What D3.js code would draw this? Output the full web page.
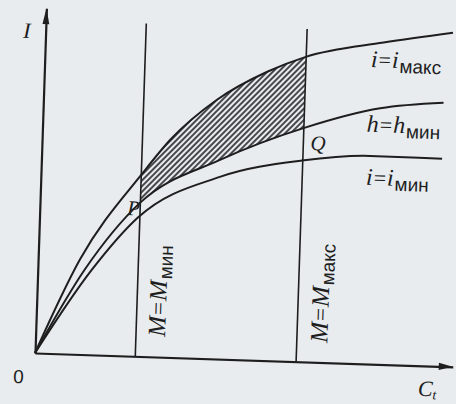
<!DOCTYPE html>
<html><head><meta charset="utf-8">
<script src="https://cdn.jsdelivr.net/npm/d3@7"></script>
<style>
html,body{margin:0;padding:0;background:#e8ecef;}
svg{display:block;}
</style></head><body>
<svg id="chart" width="456" height="404"></svg>
<script>
// Curve data (arbitrary units: concentration C_t on x, current I on y)
const iMaxX = [0, 1.0, 2.44, 3.06, 4.15, 5.33, 6.24, 8.09, 9.74];
const iMaxY = [0, 2.75, 5.33, 6.30, 7.51, 8.37, 8.84, 9.33, 9.68];
const hMinX = [0, 1.12, 2.39, 4.27, 6.26, 8.06, 9.57];
const hMinY = [0, 2.46, 4.45, 5.77, 6.78, 7.42, 7.64];
const iMinX = [0, 1.29, 2.36, 4.28, 6.23, 7.86, 9.58];
const iMinY = [0, 2.46, 4.03, 5.28, 5.83, 6.03, 6.02];
// Bounds of M (vertical lines) and their height
const mBounds = [2.40, 6.25];
const mBoundTop = 9.65;
const mLabels = [["M", "=", "M", "мин"], ["M", "=", "M", "макс"]];
const curveLabels = [["i", "=", "i", "макс"], ["h", "=", "h", "мин"], ["i", "=", "i", "мин"]];

const W = 456, H = 404;
const ink = "#1e1e1e";
const serif = "'Liberation Serif','DejaVu Serif',serif";
const sans = "'Liberation Sans','DejaVu Sans',sans-serif";

const svg = d3.select("#chart");
svg.append("rect").attr("width", W).attr("height", H).attr("fill", "#e8ecef");

const defs = svg.append("defs");
const pat = defs.append("pattern").attr("id", "hatch")
  .attr("patternUnits", "userSpaceOnUse").attr("width", 10).attr("height", 4)
  .attr("patternTransform", "rotate(-47)");
pat.append("line").attr("x1", 0).attr("x2", 10).attr("y1", 2).attr("y2", 2)
  .attr("stroke", ink).attr("stroke-width", 1.6);

// Plot group, slightly turned like the printed figure
const g = svg.append("g").attr("transform", "translate(35,353) rotate(1.9)");
const x = d3.scaleLinear().domain([0, 10]).range([0, 418]);
const y = d3.scaleLinear().domain([0, 10]).range([0, -345]);

const toPts = (xs, ys) => xs.map((v, i) => [v, ys[i]]);
const series = [toPts(iMaxX, iMaxY), toPts(hMinX, hMinY), toPts(iMinX, iMinY)];
const line = d3.line().x(d => x(d[0])).y(d => y(d[1])).curve(d3.curveMonotoneX);

// Hatched zone: above h=h_min, below i=i_max, between the M bounds
defs.append("clipPath").attr("id", "underTop").append("path")
  .attr("d", d3.area().x(d => x(d[0])).y0(y(0)).y1(d => y(d[1])).curve(d3.curveMonotoneX)(series[0]));
defs.append("clipPath").attr("id", "mBand").append("rect")
  .attr("x", x(mBounds[0])).attr("width", x(mBounds[1]) - x(mBounds[0]))
  .attr("y", y(10)).attr("height", y(0) - y(10));
g.append("g").attr("clip-path", "url(#mBand)")
  .append("g").attr("clip-path", "url(#underTop)")
  .append("path")
  .attr("d", d3.area().x(d => x(d[0])).y0(d => y(d[1])).y1(y(10)).curve(d3.curveMonotoneX)(series[1]))
  .attr("fill", "url(#hatch)");

// Axes without ticks
const xAxis = g.append("g").call(d3.axisBottom(x).tickValues([]).tickSizeOuter(0));
const yAxis = g.append("g").call(d3.axisLeft(y).tickValues([]).tickSizeOuter(0));
[xAxis, yAxis].forEach(a => a.select(".domain").attr("stroke", ink).attr("stroke-width", 2.2));
g.append("path").attr("d", `M${x(10)},0 L${x(10) - 14},-3.6 L${x(10) - 14},3.6 Z`).attr("fill", ink);
g.append("path").attr("d", `M0,${y(10)} L-3.4,${y(10) + 16} L3.4,${y(10) + 16} Z`).attr("fill", ink);

// M bounds
g.selectAll(".mline").data(mBounds).join("line")
  .attr("x1", d => x(d)).attr("x2", d => x(d))
  .attr("y1", y(0)).attr("y2", y(mBoundTop))
  .attr("stroke", ink).attr("stroke-width", 1.6);

// Curves
g.selectAll(".curve").data(series).join("path")
  .attr("d", line).attr("fill", "none")
  .attr("stroke", ink).attr("stroke-width", 2);

// Text helper: runs of italic serif, upright serif and sans subscripts
function label(parent, px, py, parts, rot) {
  const t = parent.append("text").attr("x", px).attr("y", py).attr("fill", ink);
  if (rot) t.attr("transform", `rotate(${rot},${px},${py})`);
  parts.forEach(p => {
    t.append("tspan").text(p.t)
      .attr("font-family", p.sans ? sans : serif)
      .attr("font-style", p.it ? "italic" : "normal")
      .attr("font-size", p.fs)
      .attr("dy", p.dy || 0)
      .attr("dx", p.dx || 0);
  });
  return t;
}

label(g, -22.5, -314.6, [{t: "I", it: true, fs: 22}]);
label(g, -21, 30.7, [{t: "0", sans: true, fs: 19}]);
label(g, 384, 30, [{t: "C", it: true, fs: 22}, {t: "t", it: true, fs: 14, dy: 3}]);
label(g, 87.4, -141, [{t: "P", it: true, fs: 21}]);
label(g, 268.3, -212, [{t: "Q", it: true, fs: 21}]);

const curveLabelPos = [[326, -297], [324, -232], [325, -179]];
curveLabels.forEach((c, i) => {
  label(g, curveLabelPos[i][0], curveLabelPos[i][1], [
    {t: c[0], it: true, fs: 24}, {t: c[1], fs: 22, dx: 1}, {t: c[2], it: true, fs: 24, dx: 1},
    {t: c[3], sans: true, fs: 19, dy: 5, dx: 1}
  ]);
});

const mLabelPos = [[129.5, -20.3], [291.7, -19.7]];
mLabels.forEach((m, i) => {
  label(g, mLabelPos[i][0], mLabelPos[i][1], [
    {t: m[0], it: true, fs: 25}, {t: m[1], fs: 23, dx: 1}, {t: m[2], it: true, fs: 25, dx: 1},
    {t: m[3], sans: true, fs: 19, dy: 5, dx: 1}
  ], -90);
});
</script>
</body></html>
